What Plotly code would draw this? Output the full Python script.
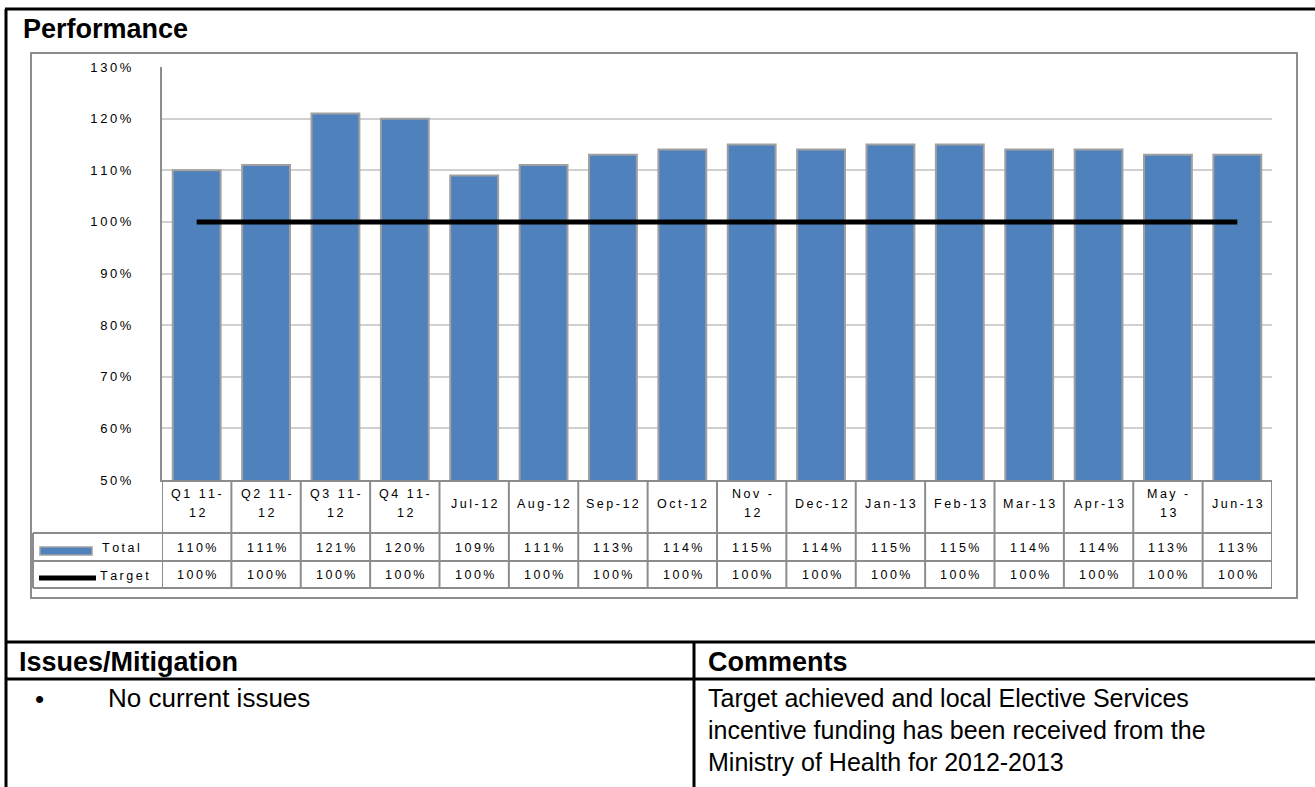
import plotly.graph_objects as go

# ---- data -------------------------------------------------------------
header_labels = ["Q1 11-\n12", "Q2 11-\n12", "Q3 11-\n12", "Q4 11-\n12",
                 "Jul-12", "Aug-12", "Sep-12", "Oct-12", "Nov -\n12", "Dec-12",
                 "Jan-13", "Feb-13", "Mar-13", "Apr-13", "May -\n13", "Jun-13"]
total_pct = [110, 111, 121, 120, 109, 111, 113, 114, 115, 114, 115, 115, 114, 114, 113, 113]
target_pct = [100] * 16
y_ticks = [50, 60, 70, 80, 90, 100, 110, 120, 130]

categories = [lbl.replace("\n", "") for lbl in header_labels]
xs = list(range(len(categories)))

# ---- page geometry (pixels) ------------------------------------------
W, H = 1315, 787
PX0, PX1 = 162, 1272      # plot area left / right
PY_TOP, PY_BOT = 67, 480  # plot area top / bottom


def px(x):
    return (x - PX0) / (PX1 - PX0)


def py(y):
    return (PY_BOT - y) / (PY_BOT - PY_TOP)


def spaced(s):
    return "\u2009".join(s)


FONT = "Liberation Sans, Arial, sans-serif"
GRAY = "#8c8c8c"
BAR_BLUE = "#4f81bd"

fig = go.Figure()

fig.add_trace(go.Bar(
    x=xs, y=total_pct, name="Total",
    marker=dict(color=BAR_BLUE, line=dict(color="#a0a0a0", width=2)),
    hoverinfo="skip",
))
fig.add_trace(go.Scatter(
    x=xs, y=target_pct, name="Target", mode="lines",
    line=dict(color="black", width=5),
    hoverinfo="skip",
))

shapes = []
annotations = []


def hline(x0, x1, y, color=GRAY, width=2):
    shapes.append(dict(type="line", xref="paper", yref="paper",
                       x0=px(x0), x1=px(x1), y0=py(y), y1=py(y),
                       line=dict(color=color, width=width)))


def vline(x, y0, y1, color=GRAY, width=2):
    shapes.append(dict(type="line", xref="paper", yref="paper",
                       x0=px(x), x1=px(x), y0=py(y0), y1=py(y1),
                       line=dict(color=color, width=width)))


def text(x, y, s, size=12, bold=False, xanchor="center", color="black"):
    annotations.append(dict(xref="paper", yref="paper", x=px(x), y=py(y),
                            text=f"<b>{s}</b>" if bold else s, showarrow=False,
                            xanchor=xanchor, yanchor="middle",
                            font=dict(family=FONT, size=size, color=color)))


# outer frame of the report panel
hline(5, W + 5, 9, color="black", width=3)
vline(6, 9, H + 5, color="black", width=3)
hline(5, W + 5, 642, color="black", width=3)
hline(5, W + 5, 679, color="black", width=3)
vline(694, 642, H + 5, color="black", width=3)

# chart box
shapes.append(dict(type="rect", xref="paper", yref="paper",
                   x0=px(31), x1=px(1297), y0=py(53), y1=py(598),
                   line=dict(color=GRAY, width=2), fillcolor="rgba(0,0,0,0)"))

# data table under the axis
ROW_HEAD_BOT, ROW_TOTAL_BOT, ROW_TARGET_BOT = 533, 561, 588
for k in range(len(categories) + 1):
    shapes.append(dict(type="line", xref="x", yref="paper",
                       x0=k - 0.5, x1=k - 0.5, y0=py(PY_BOT), y1=py(ROW_TARGET_BOT),
                       line=dict(color=GRAY, width=2)))
for yy in (ROW_HEAD_BOT, ROW_TOTAL_BOT, ROW_TARGET_BOT):
    hline(33, PX1, yy)
vline(33, ROW_HEAD_BOT, ROW_TARGET_BOT)

CELL_FONT = dict(family=FONT, size=12.5, color="black")
for i, lbl in enumerate(header_labels):
    lines = lbl.split("\n")
    if len(lines) == 1:
        annotations.append(dict(xref="x", yref="paper", x=i, y=py(504),
                                text=spaced(lines[0]), showarrow=False,
                                yanchor="middle", font=CELL_FONT))
    else:
        for ln, yy in zip(lines, (494, 513)):
            annotations.append(dict(xref="x", yref="paper", x=i, y=py(yy),
                                    text=spaced(ln), showarrow=False,
                                    yanchor="middle", font=CELL_FONT))
    annotations.append(dict(xref="x", yref="paper", x=i, y=py(548),
                            text=spaced(f"{total_pct[i]}%"), showarrow=False,
                            yanchor="middle", font=CELL_FONT))
    annotations.append(dict(xref="x", yref="paper", x=i, y=py(575),
                            text=spaced(f"{target_pct[i]}%"), showarrow=False,
                            yanchor="middle", font=CELL_FONT))

# legend keys inside the table
shapes.append(dict(type="rect", xref="paper", yref="paper",
                   x0=px(40), x1=px(92), y0=py(547), y1=py(555),
                   line=dict(color="#a0a0a0", width=1.5), fillcolor=BAR_BLUE))
shapes.append(dict(type="line", xref="paper", yref="paper",
                   x0=px(39), x1=px(96), y0=py(578), y1=py(578),
                   line=dict(color="black", width=5)))
text(100, 548, spaced("Total"), size=12.5, xanchor="left")
text(98, 576, spaced("Target"), size=12.5, xanchor="left")

# headings and commentary
text(21, 29, "Performance", size=27, bold=True, xanchor="left")
text(17, 662, "Issues/Mitigation", size=27, bold=True, xanchor="left")
text(706, 662, "Comments", size=27, bold=True, xanchor="left")
text(33, 699, "•", size=26, xanchor="left")
text(106, 698, "No current issues", size=26, xanchor="left")
comment_lines = ["Target achieved and local Elective Services",
                 "incentive funding has been received from the",
                 "Ministry of Health for 2012-2013"]
for j, ln in enumerate(comment_lines):
    text(706, 698 + 32 * j, ln, size=25, xanchor="left")

fig.update_layout(
    width=W, height=H,
    margin=dict(l=PX0, r=W - PX1, t=PY_TOP, b=H - PY_BOT, pad=0),
    paper_bgcolor="white", plot_bgcolor="white",
    showlegend=False, bargap=0.31,
    font=dict(family=FONT, color="black"),
    shapes=shapes, annotations=annotations,
    xaxis=dict(range=[-0.5, len(categories) - 0.5], showticklabels=False,
               showgrid=False, zeroline=False, showline=True,
               linecolor=GRAY, linewidth=2, ticks=""),
    yaxis=dict(range=[50, 130], tickvals=y_ticks,
               ticktext=[spaced(f"{v}%") for v in y_ticks],
               tickfont=dict(family=FONT, size=13, color="black"),
               showgrid=True, gridcolor="#d0d0d0", gridwidth=2,
               zeroline=False, showline=True, linecolor=GRAY, linewidth=2,
               ticks="", ticklabelstandoff=26),
)

fig.write_html("out.html")
